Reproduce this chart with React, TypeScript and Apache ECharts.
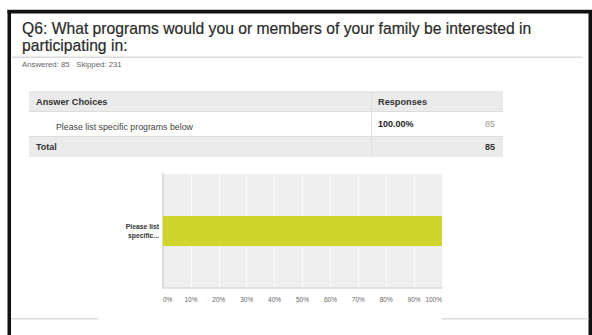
import { useEffect, useRef } from "react";
import * as echarts from "echarts";

// Survey question and summary figures
const titleLines = [
  "Q6: What programs would you or members of your family be interested in",
  "participating in:",
];
const answered = 85;
const skipped = 231;

// Answer choices with their response share (%) and count
const choices = ["Please list specific programs below"];
const percents = [100];
const counts = [85];

const FONT = '"Liberation Sans", Arial, Helvetica, sans-serif';

// Shorten a long category name into two short lines ending with an ellipsis
function shortLabel(name: string): string {
  const words = name.split(" ");
  const first = words.slice(0, 2).join(" ");
  const second = words[2] ? words[2] + "..." : "";
  return second ? first + "\n" + second : first;
}

export default function App() {
  const ref = useRef<HTMLDivElement>(null);

  useEffect(() => {
    if (!ref.current) return;
    const chart = echarts.init(ref.current, undefined, { renderer: "svg" });
    const total = counts.reduce((a, b) => a + b, 0);

    const txt = (
      text: string,
      x: number,
      y: number,
      size: number,
      fill: string,
      weight: string = "normal",
      align: string = "left",
      stroke: number = 0
    ) => ({
      type: "text",
      style: {
        text,
        x,
        y,
        fill,
        font: `${weight} ${size}px ${FONT}`,
        textAlign: align,
        textVerticalAlign: "middle",
        ...(stroke ? { stroke: fill, lineWidth: stroke } : {}),
      },
      silent: true,
    });

    const rect = (x: number, y: number, w: number, h: number, fill: string) => ({
      type: "rect",
      shape: { x, y, width: w, height: h },
      style: { fill },
      silent: true,
    });

    const graphic: any[] = [
      // page frame
      rect(7, 9, 585, 1, "#c8c8c8"),
      rect(7.5, 10, 3.5, 330, "#111111"),
      rect(7.5, 10, 585, 3.5, "#111111"),
      rect(588.5, 10, 3.5, 330, "#111111"),

      // question title
      txt(titleLines[0], 22, 28, 15.7, "#2a2a2a", "normal", "left", 0.2),
      txt(titleLines[1], 22, 45.5, 15.7, "#2a2a2a", "normal", "left", 0.2),
      rect(12, 56.5, 570, 1.5, "#d9d9d9"),
      txt(`Answered: ${answered}   Skipped: ${skipped}`, 22, 64, 7.8, "#666666"),

      // response table
      rect(29, 92, 474, 19.5, "#ebebeb"),
      rect(29, 111.5, 474, 24.5, "#ffffff"),
      rect(29, 136.5, 474, 20.5, "#ebebeb"),
      rect(29, 91.5, 474, 1, "#dddddd"),
      rect(29, 111, 474, 1, "#dcdcdc"),
      rect(29, 136, 474, 1, "#dcdcdc"),
      rect(371, 92, 1, 65, "#dedede"),
      txt("Answer Choices", 36, 101.5, 9.2, "#333333", "bold"),
      txt("Responses", 378, 101.5, 9.2, "#333333", "bold"),
      ...choices.flatMap((c, i) => [
        txt(c, 56, 126.5 + i * 25, 8.8, "#444444"),
        txt(`${percents[i].toFixed(2)}%`, 378, 123.5 + i * 25, 9, "#222222", "bold"),
        txt(String(counts[i]), 495, 123.5 + i * 25, 9, "#999999", "normal", "right"),
      ]),
      txt("Total", 36, 146.5, 9, "#333333", "bold"),
      txt(String(total), 495, 146.5, 9, "#333333", "bold", "right"),

      // footer rule, interrupted by the chart panel
      rect(11, 318, 87, 1.5, "#dcdcdc"),
      rect(442, 318, 146.5, 1.5, "#dcdcdc"),
    ];

    chart.setOption({
      animation: false,
      backgroundColor: "#ffffff",
      grid: {
        left: 163,
        top: 174,
        width: 279,
        height: 114,
        show: true,
        backgroundColor: "#efefef",
        borderWidth: 0,
      },
      xAxis: {
        type: "value",
        min: 0,
        max: 100,
        interval: 10,
        axisLine: { show: true, lineStyle: { color: "#dcdcdc", width: 1.5 } },
        axisTick: { show: false },
        splitLine: { show: true, lineStyle: { color: "#fafafa", width: 1.2 } },
        axisLabel: {
          formatter: (v: number) => `${v}%`,
          fontFamily: FONT,
          fontSize: 6.5,
          color: "#666666",
          margin: 8,
          alignMinLabel: "left",
          alignMaxLabel: "right",
        },
      },
      yAxis: {
        type: "category",
        data: choices,
        axisLine: { show: true, lineStyle: { color: "#dddddd", width: 2 } },
        axisTick: { show: false },
        axisLabel: {
          formatter: (v: string) => shortLabel(v),
          fontFamily: FONT,
          fontSize: 6.8,
          fontWeight: "bold",
          color: "#333333",
          lineHeight: 9,
          margin: 4,
        },
      },
      series: [
        {
          type: "bar",
          data: percents,
          barWidth: 30,
          itemStyle: { color: "#cfd52b" },
          silent: true,
        },
      ],
      graphic,
    });

    return () => chart.dispose();
  }, []);

  return (
    <div
      ref={ref}
      style={{ position: "absolute", left: 0, top: 0, width: 592, height: 335 }}
    />
  );
}
